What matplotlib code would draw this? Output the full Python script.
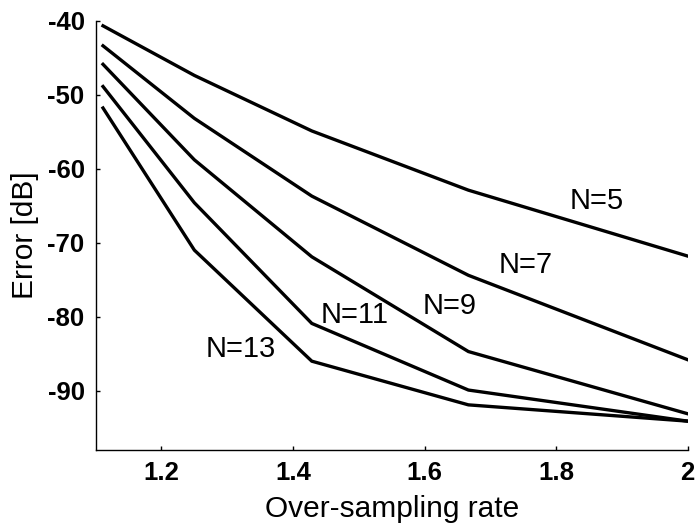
import matplotlib
matplotlib.use("Agg")
import matplotlib.pyplot as plt

plt.rcParams["font.family"] = ["Liberation Sans", "DejaVu Sans"]
plt.rcParams["axes.unicode_minus"] = False

# over-sampling rates (1/0.9 ... 1/0.5)
rate = [1 / 0.9, 1.25, 1 / 0.7, 1 / 0.6, 2.0]

err_n5 = [-40.7, -47.4, -54.9, -62.9, -71.8]
err_n7 = [-43.4, -53.2, -63.7, -74.4, -85.8]
err_n9 = [-45.9, -58.8, -71.9, -84.7, -93.1]
err_n11 = [-48.9, -64.6, -80.9, -89.9, -94.1]
err_n13 = [-51.8, -71.0, -86.0, -91.9, -94.1]

labels = ["N=5", "N=7", "N=9", "N=11", "N=13"]
label_x = [1.861, 1.753, 1.638, 1.493, 1.320]
label_y = [-64.4, -73.0, -78.5, -79.8, -84.3]

fig = plt.figure(figsize=(6.96, 5.29), dpi=100)
ax = fig.add_axes([0.1375, 0.1493, 0.8505, 0.8117])

for series in [err_n5, err_n7, err_n9, err_n11, err_n13]:
    ax.plot(rate, series, color="black", lw=2.4, solid_joinstyle="miter")

for txt, x, y in zip(labels, label_x, label_y):
    ax.text(x, y, txt, fontsize=21, ha="center", va="center")

ax.set_xlim(1.1, 2.0)
ax.set_ylim(-98, -40)
ax.set_xticks([1.2, 1.4, 1.6, 1.8, 2.0])
ax.set_xticklabels(["1.2", "1.4", "1.6", "1.8", "2"])
ax.set_yticks([-90, -80, -70, -60, -50, -40])

ax.spines["top"].set_visible(False)
ax.spines["right"].set_visible(False)
ax.spines["left"].set_linewidth(1.0)
ax.spines["bottom"].set_linewidth(1.0)

ax.tick_params(direction="in", length=3, width=1, labelsize=18.5, pad=8)
for lbl in ax.get_xticklabels() + ax.get_yticklabels():
    lbl.set_fontweight("bold")

ax.set_xlabel("Over-sampling rate", fontsize=21.5, labelpad=7)
ax.set_ylabel("Error [dB]", fontsize=21.5, labelpad=6)

fig.savefig("out.png", dpi=100)
